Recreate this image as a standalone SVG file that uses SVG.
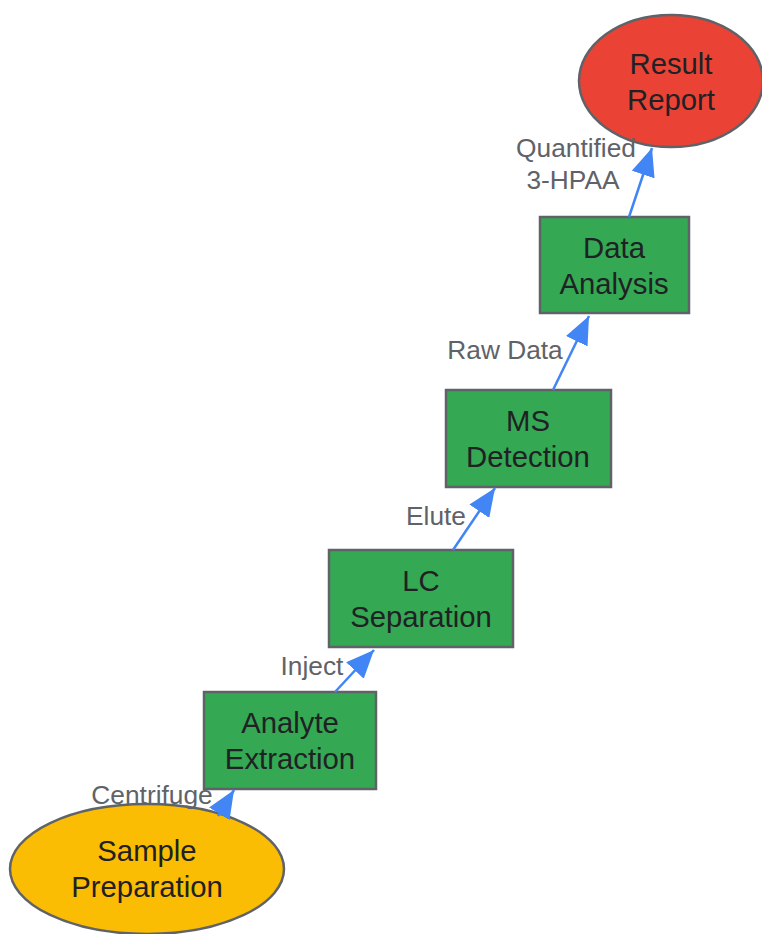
<svg xmlns="http://www.w3.org/2000/svg" width="762" height="934" viewBox="0 0 762 934">
<defs>
<style>
.node{stroke:#5f6368;stroke-width:2.5}
.nt{font-family:"Liberation Sans",Arial,sans-serif;font-size:29.3px;fill:#202124;text-anchor:middle}
.el{stroke:#4285f4;stroke-width:2.5;fill:none}
.lb{font-family:"Liberation Sans",Arial,sans-serif;font-size:26.3px;fill:#5f6368;text-anchor:middle}
</style>
<marker id="arr" markerUnits="userSpaceOnUse" markerWidth="28" markerHeight="24" refX="28" refY="12" orient="auto" viewBox="0 0 28 24">
<path d="M0,0 L28,12 L0,24 z" fill="#4285f4"/>
</marker>
</defs>
<rect width="762" height="934" fill="#ffffff"/>
<g id="result">
<ellipse class="node" cx="671" cy="81" rx="92" ry="66" fill="#ea4335"/>
<text class="nt" x="671" y="74">Result</text>
<text class="nt" x="671" y="110">Report</text>
</g>
<g id="data">
<rect class="node" x="540" y="217" width="149" height="96" fill="#34a853"/>
<text class="nt" x="614" y="258">Data</text>
<text class="nt" x="614" y="294">Analysis</text>
</g>
<g id="ms">
<rect class="node" x="446" y="390" width="165" height="97" fill="#34a853"/>
<text class="nt" x="528" y="431">MS</text>
<text class="nt" x="528" y="467">Detection</text>
</g>
<g id="lc">
<rect class="node" x="329" y="550" width="184" height="97" fill="#34a853"/>
<text class="nt" x="421" y="591">LC</text>
<text class="nt" x="421" y="627">Separation</text>
</g>
<g id="analyte">
<rect class="node" x="204" y="692" width="172" height="97" fill="#34a853"/>
<text class="nt" x="290" y="733">Analyte</text>
<text class="nt" x="290" y="769">Extraction</text>
</g>
<g id="sample">
<ellipse class="node" cx="147" cy="869" rx="137" ry="65" fill="#fbbc04"/>
<text class="nt" x="147" y="861">Sample</text>
<text class="nt" x="147" y="897">Preparation</text>
</g>
<g id="edges">
<line class="el" x1="218" y1="816" x2="234" y2="790" marker-end="url(#arr)"/>
<line class="el" x1="335" y1="692" x2="374" y2="650" marker-end="url(#arr)"/>
<line class="el" x1="453" y1="550" x2="495" y2="488" marker-end="url(#arr)"/>
<line class="el" x1="553" y1="390" x2="589" y2="316" marker-end="url(#arr)"/>
<line class="el" x1="629" y1="217" x2="652" y2="148" marker-end="url(#arr)"/>
</g>
<g id="labels">
<text class="lb" x="152" y="804">Centrifuge</text>
<text class="lb" x="312" y="675">Inject</text>
<text class="lb" x="436" y="525">Elute</text>
<text class="lb" x="505" y="359">Raw Data</text>
<text class="lb" x="576" y="157">Quantified</text>
<text class="lb" x="573" y="189">3-HPAA</text>
</g>
</svg>
